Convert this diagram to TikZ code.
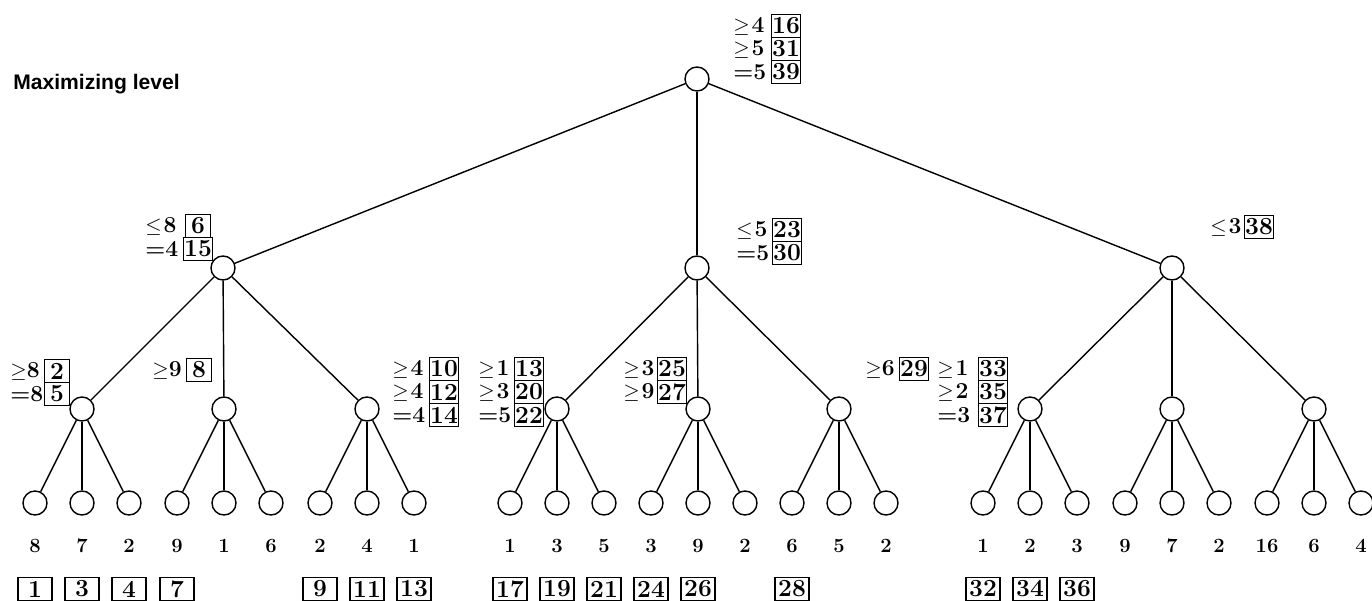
\documentclass[tikz,border=0pt]{standalone}
\usepackage{amsmath}
\usepackage{amssymb}
\usepackage{fontspec}
\newfontfamily\levelfont{Liberation Sans}
\usetikzlibrary{positioning}

\begin{document}
\begin{tikzpicture}[x=0.02cm, y=-0.02cm,
    ply/.style={circle, draw, line width=0.8pt, minimum size=0.48cm, inner sep=0pt},
    branch/.style={line width=0.8pt},
    leafval/.style={inner sep=0pt, font=\fontsize{11.5}{13}\selectfont\bfseries},
    num/.style={draw, line width=0.7pt, minimum width=0.5cm, minimum height=0.46cm, inner sep=0.5pt, font=\fontsize{14}{16}\selectfont\bfseries},
    bnd/.style={anchor=west, inner sep=0pt, font=\fontsize{13}{15}\selectfont\bfseries}]
  \useasboundingbox (0,0) rectangle (1372,601);

  % Titre du niveau
  \node[anchor=base west, inner sep=0pt, font=\levelfont\bfseries\fontsize{12}{14}\selectfont] (lvl) at (13,90) {Maximizing level};

  % Racine et premier niveau
  \node[ply] (r) at (697,79) {};
  \foreach \p/\x in {a/223, b/697, c/1172} {
    \node[ply] (\p) at (\x,268) {};
    \draw[branch] (r) -- (\p);
  }

  % Deuxieme niveau
  \foreach \p/\q/\x in {a/a1/82, a/a2/224, a/a3/367, b/b1/557, b/b2/698, b/b3/839, c/c1/1030, c/c2/1172, c/c3/1314} {
    \node[ply] (\q) at (\x,409) {};
    \draw[branch] (\p) -- (\q);
  }

  % Feuilles (valeurs en dessous)
  \foreach \q/\x/\fa/\fb/\fc in {a1/82/8/7/2, a2/224/9/1/6, a3/367/2/4/1,
                                  b1/557/1/3/5, b2/698/3/9/2, b3/839/6/5/2,
                                  c1/1030/1/2/3, c2/1172/9/7/2, c3/1314/16/6/4} {
    \foreach \k/\dx/\lv in {1/-47/\fa, 2/0/\fb, 3/47/\fc} {
      \node[ply] (\q\k) at (\x+\dx,503) {};
      \draw[branch] (\q) -- (\q\k);
      \node[leafval] (v\q\k) at (\x+\dx,546) {\lv};
    }
  }

  % Ordre d'evaluation des feuilles
  \coordinate (bot) at (0,589);
  \foreach \q/\n in {a11/1, a12/3, a13/4, a21/7, a31/9, a32/11, a33/13,
                     b11/17, b12/19, b13/21, b21/24, b22/26, b31/28,
                     c11/32, c12/34, c13/36}
    \node[num, minimum width=0.68cm] (n\n) at (\q |- bot) {\n};

  % Bornes (texte a gauche) et ordre d'evaluation des noeuds internes
  \foreach \t/\tx/\n/\x/\y in {{$\geq$\hspace{1pt}4}/733/16/786/26, {$\geq$\hspace{1pt}5}/733/31/786/49, {=5}/733/39/786/72,
                               {$\leq$\hspace{1pt}8}/145/6/198/226, {=4}/145/15/198/249,
                               {$\leq$\hspace{1pt}5}/736/23/787/230, {=5}/736/30/787/253,
                               {$\leq$\hspace{1pt}3}/1210/38/1259/227,
                               {$\geq$8}/10/2/57/371, {=8}/10/5/57/394,
                               {$\geq$9}/152/8/199/370,
                               {$\geq$\hspace{1pt}4}/392/10/444/369, {$\geq$\hspace{1pt}4}/392/12/444/392, {=4}/392/14/444/415,
                               {$\geq$\hspace{1pt}1}/478/13/529/369, {$\geq$\hspace{1pt}3}/478/20/529/392, {=5}/478/22/529/415,
                               {$\geq$\hspace{1pt}3}/623/25/672/369, {$\geq$\hspace{1pt}9}/623/27/672/392,
                               {$\geq$6}/865/29/914/369,
                               {$\geq$\hspace{1pt}1}/937/33/993/369, {$\geq$\hspace{1pt}2}/937/35/993/392, {=3}/937/37/993/415} {
    \node[num] (n\n) at (\x,\y) {\n};
    \node[bnd] (t\n) at (\tx,\y) {\t};
  }
\end{tikzpicture}
\end{document}
